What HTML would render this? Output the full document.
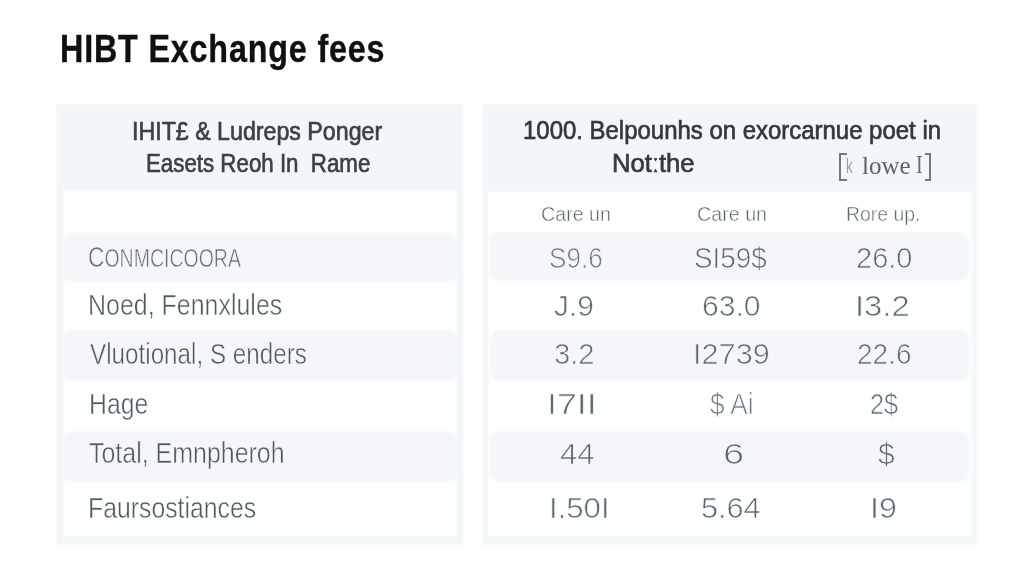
<!DOCTYPE html>
<html><head><meta charset="utf-8"><title>HIBT Exchange fees</title><style>
html,body{margin:0;padding:0;width:1024px;height:576px;overflow:hidden;background:#fefefe;font-family:"Liberation Sans",sans-serif;}
#bg{position:absolute;left:0;top:0;width:1024px;height:576px;filter:blur(0.9px);}
#w{position:absolute;left:0;top:0;width:1024px;height:576px;filter:blur(0.45px);}
.p{position:absolute;}
.t{position:absolute;white-space:pre;transform-origin:0 0;font-family:"Liberation Sans",sans-serif;}
.outer{background:#f3f6f8;}
.inner{background:#fdfefe;}
.stripe{background:#f4f6f9;border-radius:10px;}
</style></head>
<body><div id="bg">

<div class="p outer" style="left:55.5px;top:103.5px;width:407.5px;height:441px"></div>
<div class="p inner" style="left:63px;top:190px;width:394px;height:346px"></div>
<div class="p stripe" style="left:63px;top:233px;width:394px;height:49px"></div>
<div class="p stripe" style="left:63px;top:330px;width:394px;height:51px"></div>
<div class="p stripe" style="left:63px;top:431px;width:394px;height:51px"></div>

<div class="p outer" style="left:483px;top:103.5px;width:494px;height:441px"></div>
<div class="p inner" style="left:488px;top:192px;width:484px;height:344px"></div>
<div class="p stripe" style="left:490px;top:232px;width:479px;height:49px"></div>
<div class="p stripe" style="left:490px;top:330px;width:479px;height:51px"></div>
<div class="p stripe" style="left:490px;top:431px;width:479px;height:51px"></div>

</div><div id="w">
<div class="p" style="left:839px;top:153px;width:6px;height:24px;border:2px solid #74787e;border-right:0"></div>
<div class="p" style="left:925px;top:153px;width:4px;height:24px;border:2px solid #74787e;border-left:0"></div>

<div class="t" style="left:60.3px;top:30.0px;font-size:38.8px;line-height:38.8px;font-weight:bold;color:#0e1013;transform:scaleX(0.832);-webkit-text-stroke:0.4px currentColor;letter-spacing:1px;">HIBT Exchange fees</div>
<div class="t" style="left:131.8px;top:118.8px;font-size:25px;line-height:25px;font-weight:normal;color:#3c4046;transform:scaleX(0.928);-webkit-text-stroke:0.65px currentColor;">IHIT£ & Ludreps Ponger</div>
<div class="t" style="left:146.4px;top:150.8px;font-size:25px;line-height:25px;font-weight:normal;color:#3c4046;transform:scaleX(0.892);-webkit-text-stroke:0.65px currentColor;">Easets Reoh In  Rame</div>
<div class="t" style="left:523.1px;top:118.1px;font-size:25.5px;line-height:25.5px;font-weight:normal;color:#33363b;transform:scaleX(0.939);-webkit-text-stroke:0.65px currentColor;">1000. Belpounhs on exorcarnue poet in</div>
<div class="t" style="left:612.0px;top:151.1px;font-size:25px;line-height:25px;font-weight:normal;color:#36393e;transform:scaleX(1.025);-webkit-text-stroke:0.65px currentColor;">Notːthe</div>
<div class="t" style="left:862.0px;top:152.8px;font-size:25px;line-height:25px;font-weight:normal;color:#5d6167;transform:scaleX(1.000);font-family:'Liberation Serif';">lowe</div>
<div class="t" style="left:916.2px;top:152.3px;font-size:25.5px;line-height:25.5px;font-weight:normal;color:#6a6e74;transform:scaleX(0.786);font-family:'Liberation Serif';">I</div>
<div class="t" style="left:846.3px;top:156.0px;font-size:20px;line-height:20px;font-weight:normal;color:#9aa0a6;transform:scaleX(0.667);">k</div>
<div class="t" style="left:540.7px;top:203.0px;font-size:21px;line-height:21px;font-weight:normal;color:#5c6168;transform:scaleX(0.936);-webkit-text-stroke:0.5px #fbfcfc;">Care un</div>
<div class="t" style="left:697.4px;top:203.0px;font-size:21px;line-height:21px;font-weight:normal;color:#5c6168;transform:scaleX(0.938);-webkit-text-stroke:0.5px #fbfcfc;">Care un</div>
<div class="t" style="left:845.8px;top:203.0px;font-size:21px;line-height:21px;font-weight:normal;color:#62676e;transform:scaleX(0.923);-webkit-text-stroke:0.5px #fbfcfc;">Rore up.</div>
<div class="t" style="left:88.2px;top:242.3px;font-size:30px;line-height:30px;font-weight:normal;color:#6a7078;transform:scaleX(0.756);-webkit-text-stroke:0.5px #fbfcfc;">C<span style="font-size:0.86em">ONMCICOORA</span></div>
<div class="t" style="left:88.1px;top:290.1px;font-size:30px;line-height:30px;font-weight:normal;color:#525860;transform:scaleX(0.832);-webkit-text-stroke:0.5px #fbfcfc;">Noed, Fennxlules</div>
<div class="t" style="left:89.5px;top:338.5px;font-size:30px;line-height:30px;font-weight:normal;color:#525860;transform:scaleX(0.808);-webkit-text-stroke:0.5px #fbfcfc;">Vluotional, S enders</div>
<div class="t" style="left:88.8px;top:389.2px;font-size:30px;line-height:30px;font-weight:normal;color:#525860;transform:scaleX(0.826);-webkit-text-stroke:0.5px #fbfcfc;">Hage</div>
<div class="t" style="left:88.9px;top:437.5px;font-size:30px;line-height:30px;font-weight:normal;color:#525860;transform:scaleX(0.832);-webkit-text-stroke:0.5px #fbfcfc;">Total, Emnpheroh</div>
<div class="t" style="left:88.0px;top:492.5px;font-size:30px;line-height:30px;font-weight:normal;color:#525860;transform:scaleX(0.827);-webkit-text-stroke:0.5px #fbfcfc;">Faursostiances</div>
<div class="t" style="left:548.8px;top:242.5px;font-size:30px;line-height:30px;font-weight:normal;color:#747a81;transform:scaleX(0.869);-webkit-text-stroke:0.7px #f9fafb;">S9.6</div>
<div class="t" style="left:693.8px;top:242.5px;font-size:30px;line-height:30px;font-weight:normal;color:#5f666e;transform:scaleX(0.929);-webkit-text-stroke:0.7px #f9fafb;">SI59$</div>
<div class="t" style="left:855.9px;top:242.5px;font-size:30px;line-height:30px;font-weight:normal;color:#5f666e;transform:scaleX(0.967);-webkit-text-stroke:0.7px #f9fafb;">26.0</div>
<div class="t" style="left:554.0px;top:290.5px;font-size:30px;line-height:30px;font-weight:normal;color:#5f666e;transform:scaleX(1.000);-webkit-text-stroke:0.7px #f9fafb;">J.9</div>
<div class="t" style="left:702.4px;top:290.5px;font-size:30px;line-height:30px;font-weight:normal;color:#5f666e;transform:scaleX(1.002);-webkit-text-stroke:0.7px #f9fafb;">63.0</div>
<div class="t" style="left:855.1px;top:290.5px;font-size:30px;line-height:30px;font-weight:normal;color:#5f666e;transform:scaleX(1.093);-webkit-text-stroke:0.7px #f9fafb;">I3.2</div>
<div class="t" style="left:554.1px;top:338.5px;font-size:30px;line-height:30px;font-weight:normal;color:#5f666e;transform:scaleX(0.974);-webkit-text-stroke:0.7px #f9fafb;">3.2</div>
<div class="t" style="left:693.2px;top:338.5px;font-size:30px;line-height:30px;font-weight:normal;color:#5f666e;transform:scaleX(1.023);-webkit-text-stroke:0.7px #f9fafb;">I2739</div>
<div class="t" style="left:856.5px;top:338.5px;font-size:30px;line-height:30px;font-weight:normal;color:#5f666e;transform:scaleX(0.933);-webkit-text-stroke:0.7px #f9fafb;">22.6</div>
<div class="t" style="left:547.2px;top:389.4px;font-size:30px;line-height:30px;font-weight:normal;color:#5f666e;transform:scaleX(1.194);-webkit-text-stroke:0.7px #f9fafb;">I7II</div>
<div class="t" style="left:709.8px;top:389.4px;font-size:30px;line-height:30px;font-weight:normal;color:#747a81;transform:scaleX(0.872);-webkit-text-stroke:0.7px #f9fafb;">$ Ai</div>
<div class="t" style="left:870.3px;top:389.4px;font-size:30px;line-height:30px;font-weight:normal;color:#5f666e;transform:scaleX(0.839);-webkit-text-stroke:0.7px #f9fafb;">2$</div>
<div class="t" style="left:560.0px;top:438.5px;font-size:30px;line-height:30px;font-weight:normal;color:#5f666e;transform:scaleX(1.032);-webkit-text-stroke:0.7px #f9fafb;">44</div>
<div class="t" style="left:722.5px;top:438.5px;font-size:30px;line-height:30px;font-weight:normal;color:#5f666e;transform:scaleX(1.269);-webkit-text-stroke:0.7px #f9fafb;">6</div>
<div class="t" style="left:878.0px;top:438.5px;font-size:30px;line-height:30px;font-weight:normal;color:#5f666e;transform:scaleX(1.000);-webkit-text-stroke:0.7px #f9fafb;">$</div>
<div class="t" style="left:548.9px;top:493.1px;font-size:30px;line-height:30px;font-weight:normal;color:#5f666e;transform:scaleX(1.038);-webkit-text-stroke:0.7px #f9fafb;">I.50I</div>
<div class="t" style="left:700.5px;top:493.1px;font-size:30px;line-height:30px;font-weight:normal;color:#5f666e;transform:scaleX(1.022);-webkit-text-stroke:0.7px #f9fafb;">5.64</div>
<div class="t" style="left:869.5px;top:493.1px;font-size:30px;line-height:30px;font-weight:normal;color:#5f666e;transform:scaleX(1.076);-webkit-text-stroke:0.7px #f9fafb;">I9</div>
</div></body></html>
